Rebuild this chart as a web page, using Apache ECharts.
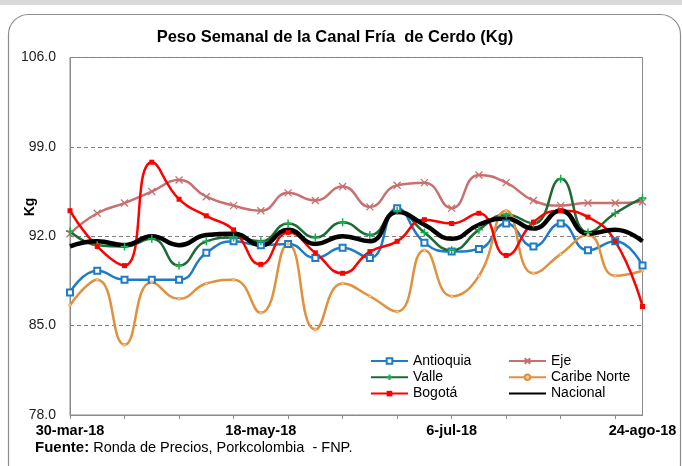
<!DOCTYPE html>
<html lang="es">
<head>
  <meta charset="UTF-8">
  <title>Peso Semanal de la Canal Fría de Cerdo</title>
  <style>
    * {
      margin: 0;
      padding: 0;
    }
    body {
      background: #fff;
    }
    /* contenedor del grafico */
    #main {
      width: 682px;
      height: 466px;
    }
  </style>
</head>
<body>
  <div id="main"></div>
  <script src="https://cdn.jsdelivr.net/npm/echarts@6/dist/echarts.min.js"></script>
  <script>
    // semanas (viernes)
    var semanas = ['30-mar-18', '6-abr-18', '13-abr-18', '20-abr-18', '27-abr-18', '4-may-18',
      '11-may-18', '18-may-18', '25-may-18', '1-jun-18', '8-jun-18', '15-jun-18', '22-jun-18',
      '29-jun-18', '6-jul-18', '13-jul-18', '20-jul-18', '27-jul-18', '3-ago-18', '10-ago-18',
      '17-ago-18', '24-ago-18'];

    // peso en Kg por region
    var antioquia = [87.6, 89.3, 88.6, 88.6, 88.6, 90.7, 91.6, 91.3, 91.4, 90.3, 91.1,
      90.3, 94.2, 91.5, 90.8, 91.0, 93.0, 91.2, 93.0, 90.9, 91.6, 89.7];
    var eje = [92.2, 93.8, 94.6, 95.5, 96.4, 95.1, 94.4, 94.0, 95.4, 94.8, 95.9,
      94.3, 96.0, 96.2, 94.2, 96.8, 96.2, 94.8, 94.4, 94.6, 94.6, 94.7];
    var valle = [92.4, 91.3, 91.2, 91.8, 89.7, 91.6, 91.9, 91.6, 93.0, 91.9, 93.1,
      92.1, 94.0, 92.3, 90.9, 92.5, 93.7, 93.0, 96.5, 92.3, 93.8, 95.0];
    var caribeNorte = [86.6, 88.6, 83.5, 88.4, 87.1, 88.3, 88.6, 86.0, 91.4, 84.7, 88.3,
      87.3, 86.1, 90.9, 87.3, 88.9, 94.0, 89.1, 90.6, 92.1, 88.9, 89.3];
    var bogota = [94.0, 91.2, 89.7, 97.8, 94.9, 93.6, 92.5, 89.8, 92.3, 90.7, 89.1,
      90.8, 91.6, 93.3, 93.0, 93.8, 90.5, 93.1, 94.0, 93.5, 91.6, 86.5];
    var nacional = [91.2, 91.6, 91.3, 92.0, 91.3, 92.1, 92.2, 91.3, 92.5, 91.4, 92.0,
      91.6, 93.9, 92.9, 91.8, 92.9, 93.4, 92.6, 94.0, 92.2, 92.5, 91.6];

    // eje Y
    var yMin = 78, yMax = 106, yPaso = 7;

    var fuente = 'Liberation Sans, Arial, sans-serif';
    var gris = '#8a8a8a';
    var suave = 0.5;

    var myChart = echarts.init(document.getElementById('main'));

    // marcas propias
    var marcaX = 'path://M0,0L10,10M10,0L0,10';
    var marcaMas = 'path://M5,0L5,10M0,5L10,5';

    function serie(nombre, datos, colorLinea, ancho, simbolo, tam, estiloPunto) {
      return {
        name: nombre,
        type: 'line',
        data: datos,
        smooth: suave,
        symbol: simbolo,
        symbolSize: tam,
        showSymbol: simbolo !== 'none',
        lineStyle: { color: colorLinea, width: ancho },
        itemStyle: estiloPunto,
        emphasis: { disabled: true }
      };
    }

    var leyenda = {
      orient: 'vertical',
      top: 354,
      padding: 0,
      itemWidth: 37,
      itemHeight: 7,
      itemGap: 2.3,
      textStyle: { fontSize: 14, color: '#000', fontFamily: fuente }
    };

    var option = {
      animation: false,
      textStyle: { fontFamily: fuente },
      graphic: [
        { type: 'rect', silent: true, shape: { x: 0, y: 0, width: 682, height: 5 }, style: { fill: '#d9d9d9' } },
        { type: 'rect', silent: true, shape: { x: 8.5, y: 14.5, width: 672, height: 470, r: 20 },
          style: { fill: 'none', stroke: '#8c8c8c', lineWidth: 1.2 } },
        { type: 'text', silent: true, x: 335, y: 37,
          style: { text: 'Peso Semanal de la Canal Fría  de Cerdo (Kg)', font: 'bold 16.5px ' + fuente,
            fill: '#000', align: 'center', verticalAlign: 'middle' } },
        { type: 'text', silent: true, x: 30, y: 207, rotation: Math.PI / 2,
          style: { text: 'Kg', font: 'bold 14px ' + fuente, fill: '#000', align: 'center', verticalAlign: 'middle' } },
        { type: 'text', silent: true, x: 35, y: 448,
          style: { text: '{b|Fuente:} Ronda de Precios, Porkcolombia  - FNP.', font: '14.5px ' + fuente,
            fill: '#000', verticalAlign: 'middle',
            rich: { b: { fontWeight: 'bold', fontSize: 15, fontFamily: fuente, fill: '#000' } } } }
      ],
      grid: {
        left: 70,
        right: 39.5,
        top: 57.5,
        bottom: 51,
        show: true,
        borderColor: gris,
        borderWidth: 1
      },
      legend: [
        echarts.util.extend({ left: 370, data: ['Antioquia', 'Valle', 'Bogotá'] }, leyenda),
        echarts.util.extend({ left: 508, data: ['Eje', 'Caribe Norte',
          { name: 'Nacional', itemStyle: { opacity: 0 } }] }, leyenda)
      ],
      xAxis: {
        type: 'category',
        data: semanas,
        boundaryGap: false,
        axisLine: { lineStyle: { color: gris } },
        axisTick: { interval: 1, length: 4, lineStyle: { color: gris } },
        axisLabel: { interval: 6, fontSize: 14.5, fontWeight: 'bold', color: '#000', margin: 8 },
        splitLine: { show: false }
      },
      yAxis: {
        type: 'value',
        min: yMin,
        max: yMax,
        interval: yPaso,
        axisLine: { show: true, lineStyle: { color: gris } },
        axisTick: { show: false },
        axisLabel: {
          fontSize: 14,
          color: '#222',
          margin: 14,
          formatter: function (v) { return v.toFixed(1); }
        },
        splitLine: { lineStyle: { color: '#808080', type: [4, 3], width: 1 } }
      },
      series: [
        serie('Antioquia', antioquia, '#1F7BC8', 2.5, 'emptyRect', 6,
          { color: '#1F7BC8', borderWidth: 1.5 }),
        serie('Eje', eje, '#C8706E', 2.5, marcaX, 7,
          { color: '#C8706E', borderColor: '#C8706E', borderWidth: 1.3 }),
        serie('Valle', valle, '#1E6A34', 2.5, marcaMas, 8,
          { color: '#12B04A', borderColor: '#12B04A', borderWidth: 1.5 }),
        serie('Caribe Norte', caribeNorte, '#E0913E', 2.5, 'circle', 3,
          { color: '#F3C99A', borderColor: '#E0913E', borderWidth: 0.5 }),
        serie('Bogotá', bogota, '#FF0000', 2.5, 'rect', 5,
          { color: '#FF0000' }),
        serie('Nacional', nacional, '#000000', 4.5, 'none', 0,
          { color: '#000000' })
      ]
    };

    myChart.setOption(option);
  </script>
</body>
</html>
